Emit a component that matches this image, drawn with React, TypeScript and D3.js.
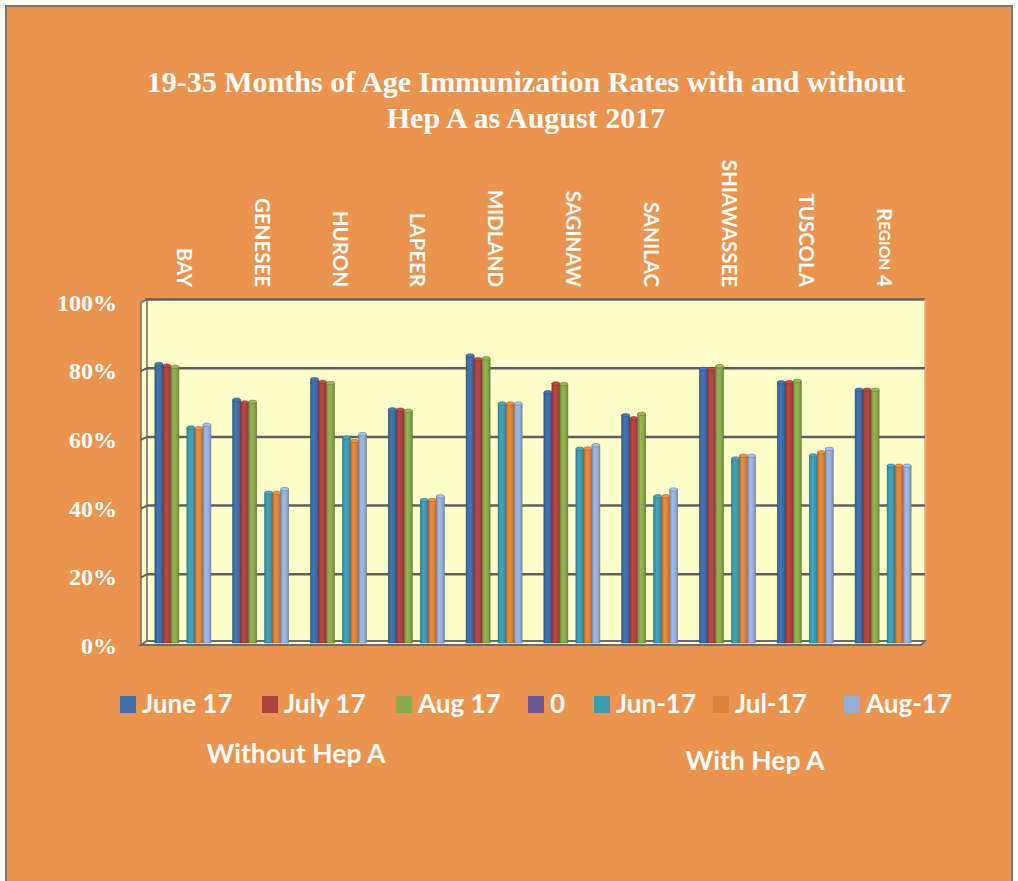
import React from 'react';
import * as d3 from 'd3';

// Chart data
const categories = ['BAY', 'GENESEE', 'HURON', 'LAPEER', 'MIDLAND', 'SAGINAW', 'SANILAC', 'SHIAWASSEE', 'TUSCOLA', 'REGION 4'];
const seriesNames = ['June 17', 'July 17', 'Aug 17', '0', 'Jun-17', 'Jul-17', 'Aug-17'];
const june17 = [0.812, 0.708, 0.768, 0.680, 0.837, 0.730, 0.663, 0.798, 0.759, 0.737];
const july17 = [0.807, 0.700, 0.760, 0.679, 0.826, 0.755, 0.654, 0.798, 0.759, 0.737];
const aug17 = [0.804, 0.702, 0.757, 0.676, 0.829, 0.754, 0.667, 0.806, 0.763, 0.737];
const zeroSeries = [0, 0, 0, 0, 0, 0, 0, 0, 0, 0];
const jun17Hep = [0.627, 0.437, 0.598, 0.416, 0.697, 0.565, 0.427, 0.537, 0.546, 0.516];
const jul17Hep = [0.625, 0.437, 0.588, 0.416, 0.697, 0.566, 0.427, 0.545, 0.555, 0.516];
const aug17Hep = [0.635, 0.448, 0.608, 0.427, 0.697, 0.576, 0.447, 0.545, 0.565, 0.516];
const seriesValues = [june17, july17, aug17, zeroSeries, jun17Hep, jul17Hep, aug17Hep];
const yTicks = [0, 0.2, 0.4, 0.6, 0.8, 1.0];
const tickLabels = ['0%', '20%', '40%', '60%', '80%', '100%'];
const titleLines = ['19-35 Months of Age Immunization Rates with and without', 'Hep A as August 2017'];

const COLORS = ['#3F6DA8', '#AD4240', '#8BA84C', '#6E5792', '#3D9AB2', '#DE823A', '#97AED7'];

const W = 1018;
const H = 881;
const BG = '#EB9450';
const PLOT_BG = '#FFFFCC';
const GRID = '#5E5E5E';

const plot = { left: 147, right: 925, top: 299.5, bottom: 643 };

export default function App() {
  const x0 = d3.scaleBand<string>()
    .domain(categories)
    .range([144, 922])
    .paddingInner(0.28)
    .paddingOuter(0.14);

  const x1 = d3.scaleBand<string>()
    .domain(seriesNames)
    .range([0, x0.bandwidth()]);

  const y = d3.scaleLinear().domain([0, 1]).range([plot.bottom, plot.top]);

  const serif = '"Liberation Serif", "DejaVu Serif", serif';
  const sans = 'Lato, "Open Sans", sans-serif';

  return (
    <svg
      width={W}
      height={H}
      style={{ position: 'fixed', left: 0, top: 0, background: '#fff' }}
    >
      <defs>
        {COLORS.map((c, i) => (
          <linearGradient key={i} id={`bar${i}`} x1="0" x2="1" y1="0" y2="0">
            <stop offset="0%" stopColor={d3.color(c)!.darker(0.5).toString()} />
            <stop offset="35%" stopColor={d3.color(c)!.brighter(0.2).toString()} />
            <stop offset="70%" stopColor={c} />
            <stop offset="100%" stopColor={d3.color(c)!.darker(0.6).toString()} />
          </linearGradient>
        ))}
      </defs>

      {/* chart background and border */}
      <rect x={6} y={6} width={1006} height={H + 10} fill={BG} stroke="#777" strokeWidth={2} />

      {/* title */}
      {titleLines.map((t, i) => (
        <text
          key={i}
          x={526}
          y={92 + i * 36}
          textAnchor="middle"
          fill="#fff"
          fontFamily={serif}
          fontWeight="bold"
          fontSize={30}
        >
          {t}
        </text>
      ))}

      {/* plot area back wall */}
      <rect x={plot.left} y={plot.top} width={plot.right - plot.left} height={plot.bottom - plot.top} fill={PLOT_BG} />
      <line x1={plot.left - 2} x2={plot.right} y1={plot.top} y2={plot.top} stroke={GRID} strokeWidth={2.5} />
      <line x1={plot.right} x2={plot.right} y1={plot.top} y2={plot.bottom} stroke="#F2B27A" strokeWidth={1.5} />

      {/* left wall */}
      <polygon
        points={`141,${plot.top + 3} 147,${plot.top} 147,${plot.bottom - 2} 141,${plot.bottom + 2}`}
        fill={PLOT_BG}
        stroke="#6A6A6A"
        strokeWidth={1.5}
      />

      {/* gridlines */}
      {yTicks.slice(1, -1).map((t) => (
        <g key={t}>
          <line x1={141} x2={147} y1={y(t) + 3} y2={y(t)} stroke={GRID} strokeWidth={2} />
          <line x1={147} x2={plot.right} y1={y(t)} y2={y(t)} stroke={GRID} strokeWidth={2.5} />
        </g>
      ))}

      {/* floor */}
      <polygon
        points={`141,${plot.bottom + 2} 147,${plot.bottom - 2} ${plot.right},${plot.bottom - 2} ${plot.right - 4},${plot.bottom + 2}`}
        fill={PLOT_BG}
        stroke="#6A6A6A"
        strokeWidth={1.8}
      />

      {/* bars */}
      {categories.map((cat, ci) => (
        <g key={cat} transform={`translate(${x0(cat)},0)`}>
          {seriesNames.map((s, si) => {
            const v = seriesValues[si][ci];
            if (!v) return null;
            const bx = x1(s)!;
            const bw = x1.bandwidth();
            const top = y(v);
            const base = d3.color(COLORS[si])!;
            return (
              <g key={s}>
                <rect
                  x={bx}
                  y={top}
                  width={bw}
                  height={y(0) - top}
                  fill={`url(#bar${si})`}
                  stroke={base.darker(0.9).toString()}
                  strokeWidth={0.6}
                />
                <ellipse
                  cx={bx + bw / 2}
                  cy={top}
                  rx={bw / 2}
                  ry={1.8}
                  fill={base.brighter(0.3).toString()}
                  stroke={base.darker(0.9).toString()}
                  strokeWidth={0.6}
                />
              </g>
            );
          })}
        </g>
      ))}

      {/* y axis labels */}
      {yTicks.map((t, i) => (
        <text
          key={t}
          x={117}
          y={y(t) + 11}
          textAnchor="end"
          fill="#fff"
          fontFamily={serif}
          fontWeight="bold"
          fontSize={24}
        >
          {tickLabels[i]}
        </text>
      ))}

      {/* category labels, rotated */}
      {categories.map((cat) => {
        const cx = x0(cat)! + x0.bandwidth() / 2 + 2;
        const isRegion = cat.startsWith('REGION');
        return (
          <text
            key={cat}
            transform={`translate(${cx},287) rotate(90)`}
            textAnchor="end"
            dominantBaseline="central"
            fill="#fff"
            fontFamily={sans}
            fontWeight="bold"
            fontSize={20.5}
          >
            {isRegion ? (
              <>
                <tspan>R</tspan>
                <tspan fontSize={15.5}>EGION</tspan>
                <tspan> 4</tspan>
              </>
            ) : cat}
          </text>
        );
      })}

      {/* legend */}
      {(() => {
        const legendX = [120, 262, 396, 528, 594, 713, 844];
        return seriesNames.map((s, i) => (
          <g key={s} transform={`translate(${legendX[i]},696)`}>
            <rect width={16} height={17} fill={COLORS[i]} />
            <text x={22} y={17} fill="#fff" fontFamily={sans} fontWeight="bold" fontSize={26}>
              {s}
            </text>
          </g>
        ));
      })()}

      <text x={296} y={763} textAnchor="middle" fill="#fff" fontFamily={sans} fontWeight="bold" fontSize={26.5}>
        Without Hep A
      </text>
      <text x={755} y={770} textAnchor="middle" fill="#fff" fontFamily={sans} fontWeight="bold" fontSize={26.5}>
        With Hep A
      </text>
    </svg>
  );
}
